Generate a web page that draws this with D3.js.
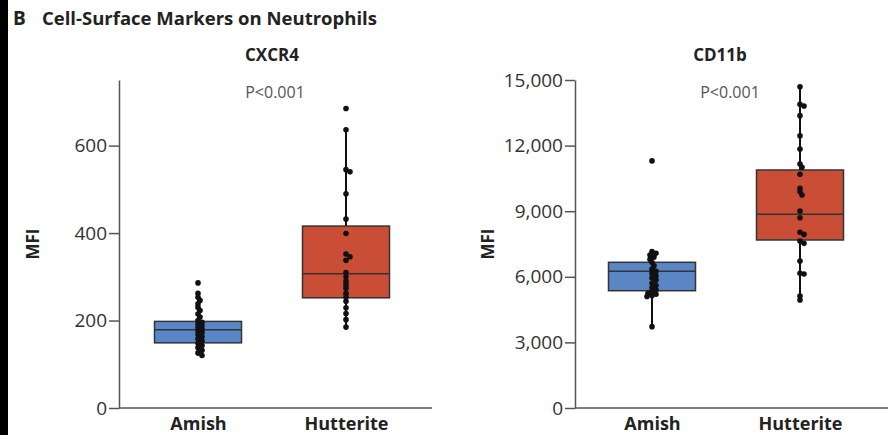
<html>
<head>
<script src="https://d3js.org/d3.v7.min.js"></script>
<style>
  body { margin: 0; background: #fff; }
  svg text { font-family: "Open Sans", "DejaVu Sans", sans-serif; }
</style>
</head>
<body>
<script>
// groups on the x axis
var groups = ["Amish", "Hutterite"];

// CXCR4 MFI, one value per subject
var cxcr4Amish = [286, 262, 253, 246, 238, 230, 223, 215, 208, 200, 196, 192, 188, 184, 180, 176, 172, 168, 163, 158, 153, 148, 143, 138, 132, 126, 120];
var cxcr4Hutterite = [685, 636, 545, 540, 490, 432, 399, 352, 346, 338, 310, 300, 290, 282, 274, 262, 254, 244, 229, 216, 202, 185];

// CD11b MFI
var cd11bAmish = [11300, 7150, 7080, 7000, 6900, 6800, 6650, 6500, 6350, 6250, 6150, 6050, 5950, 5850, 5700, 5600, 5500, 5400, 5320, 5250, 5200, 5150, 5100, 3720];
var cd11bHutterite = [14690, 13890, 13810, 13370, 12450, 11840, 11160, 11010, 10690, 10050, 9890, 9740, 9010, 8700, 8040, 7940, 7640, 7530, 6720, 6160, 6130, 5120, 4940];

// box stats per group: [whisker low, q1, median, q3, whisker high]
var cxcr4Boxes = [[120, 149, 179, 198, 262], [185, 252, 307, 416, 636]];
var cd11bBoxes = [[3720, 5364, 6251, 6663, 7150], [4940, 7683, 8858, 10884, 14690]];

var cxcr4Ticks = [0, 200, 400, 600];
var cd11bTicks = [0, 3000, 6000, 9000, 12000, 15000];

var colors = ["#5b86c6", "#c94e35"];

var W = 888, H = 435;
var svg = d3.select("body").append("svg").attr("width", W).attr("height", H);

// black strip on the left edge of the scan
svg.append("rect").attr("x", 0).attr("y", 0).attr("width", 8).attr("height", H).attr("fill", "#000");

svg.append("text").attr("x", 13).attr("y", 25)
   .attr("font-size", 19).attr("font-weight", "bold").attr("fill", "#222").text("B");
svg.append("text").attr("x", 42).attr("y", 25)
   .attr("font-size", 18.5).attr("font-weight", "bold").attr("fill", "#222")
   .text("Cell-Surface Markers on Neutrophils");

function panel(opt) {
  var g = svg.append("g");
  var y = d3.scaleLinear().domain(opt.domain).range([408, 80]);
  var x = d3.scalePoint().domain(groups).range(opt.centers);

  // y axis
  var ay = g.append("g").attr("transform", "translate(" + opt.axisX + ",0)")
    .call(d3.axisLeft(y).tickValues(opt.ticks).tickSize(10).tickSizeOuter(0).tickPadding(2).tickFormat(d3.format(",")));
  ay.select(".domain").attr("stroke", "#555").attr("stroke-width", 1.5);
  ay.selectAll(".tick line").attr("stroke", "#555").attr("stroke-width", 1.5);
  ay.selectAll(".tick text").attr("font-size", 19).attr("fill", "#333")
    .attr("font-family", "Open Sans, sans-serif");

  // x axis line + category labels
  var ax = g.append("g").attr("transform", "translate(0,408)")
    .call(d3.axisBottom(x).tickSize(0).tickPadding(9));
  ax.select(".domain").attr("d", "M" + opt.axisX + ",0H" + opt.axisEnd)
    .attr("stroke", "#555").attr("stroke-width", 1.5);
  ax.selectAll(".tick text").attr("font-size", 18).attr("font-weight", "bold").attr("fill", "#222")
    .attr("font-family", "Open Sans, sans-serif");

  // titles
  g.append("text").attr("x", opt.titleX).attr("y", 61).attr("text-anchor", "middle")
    .attr("font-size", 17).attr("font-weight", "bold").attr("fill", "#222").text(opt.title);
  g.append("text").attr("x", opt.pX).attr("y", 98).attr("text-anchor", "middle")
    .attr("font-size", 16).attr("fill", "#555").text("P<0.001");
  g.append("text").attr("transform", "translate(" + opt.labelX + ",244) rotate(-90)")
    .attr("text-anchor", "middle").attr("font-size", 17).attr("font-weight", "bold")
    .attr("fill", "#222").text("MFI");

  var bw = 87;
  groups.forEach(function(grp, i) {
    var b = opt.boxes[i], cx = x(grp);
    g.append("line").attr("x1", cx).attr("x2", cx).attr("y1", y(b[0])).attr("y2", y(b[4]))
      .attr("stroke", "#111").attr("stroke-width", 2);
    g.append("rect").attr("x", cx - bw / 2).attr("width", bw)
      .attr("y", y(b[3])).attr("height", y(b[1]) - y(b[3]))
      .attr("fill", colors[i]).attr("stroke", "#333").attr("stroke-width", 1.5);
    g.append("line").attr("x1", cx - bw / 2).attr("x2", cx + bw / 2)
      .attr("y1", y(b[2])).attr("y2", y(b[2])).attr("stroke", "#333").attr("stroke-width", 1.5);

    // tight beeswarm, points mostly stay on the whisker line
    var placed = [], r = 2.8;
    opt.values[i].forEach(function(v) {
      var py = y(v), offs = [0, 2, -2, 4, -4, 5, -5], px = cx;
      for (var k = 0; k < offs.length; k++) {
        var tx = cx + offs[k];
        var hit = placed.some(function(p) { return Math.hypot(p[0] - tx, p[1] - py) < r * 1.2; });
        if (!hit) { px = tx; break; }
      }
      placed.push([px, py]);
    });
    g.selectAll(null).data(placed).enter().append("circle")
      .attr("cx", function(d) { return d[0]; }).attr("cy", function(d) { return d[1]; })
      .attr("r", r).attr("fill", "#111");
  });
}

panel({domain: [0, 750], ticks: cxcr4Ticks, centers: [198, 346], axisX: 119, axisEnd: 432,
       boxes: cxcr4Boxes, values: [cxcr4Amish, cxcr4Hutterite],
       title: "CXCR4", titleX: 272, pX: 275, labelX: 39});
panel({domain: [0, 15000], ticks: cd11bTicks, centers: [652, 800], axisX: 575, axisEnd: 888,
       boxes: cd11bBoxes, values: [cd11bAmish, cd11bHutterite],
       title: "CD11b", titleX: 720, pX: 730, labelX: 494});
</script>
</body>
</html>
